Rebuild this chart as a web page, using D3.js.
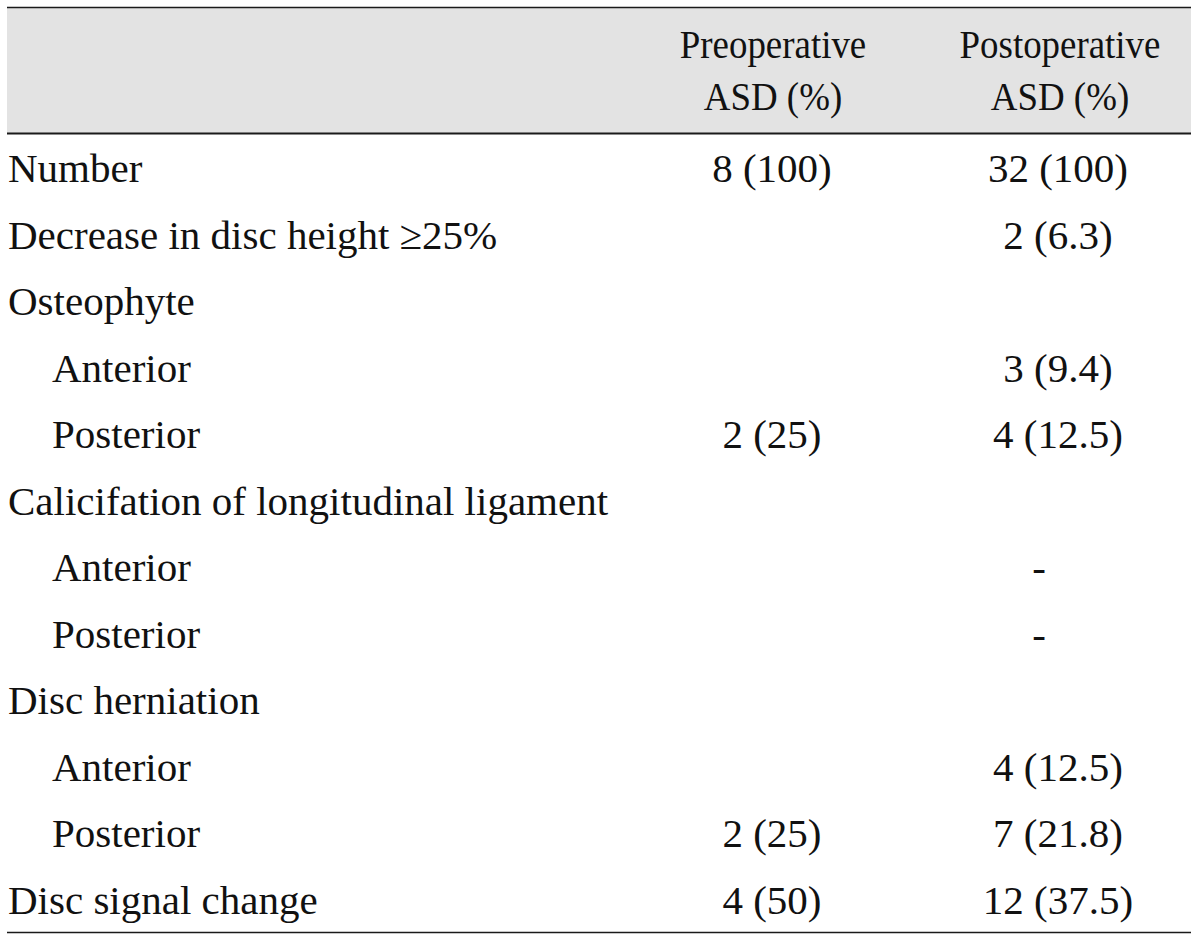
<!DOCTYPE html>
<html>
<head>
<meta charset="utf-8">
<script src="https://cdn.jsdelivr.net/npm/d3@7"></script>
<style>
html,body{margin:0;padding:0;background:#fff;}
svg{display:block;}
text{font-family:"Liberation Serif","Times New Roman",serif;fill:#111;}
</style>
</head>
<body>
<svg id="chart" width="1200" height="943"></svg>
<script>
const headerLines = [["Preoperative", "ASD (%)"], ["Postoperative", "ASD (%)"]];
const rowLabels = ["Number", "Decrease in disc height \u226525%", "Osteophyte", "Anterior", "Posterior",
  "Calicifation of longitudinal ligament", "Anterior", "Posterior", "Disc herniation", "Anterior", "Posterior",
  "Disc signal change"];
const rowIndent = [0, 0, 0, 1, 1, 0, 1, 1, 0, 1, 1, 0];
const preValues = ["8 (100)", "", "", "", "2 (25)", "", "", "", "", "", "2 (25)", "4 (50)"];
const postValues = ["32 (100)", "2 (6.3)", "", "3 (9.4)", "4 (12.5)", "", "-", "-", "", "4 (12.5)", "7 (21.8)", "12 (37.5)"];

const svg = d3.select("#chart");
const fontSize = 41;

const tableLeft = 7, tableRight = 1191;
const headerTop = 7.5, headerBottom = 133.5, tableBottom = 932.5;
svg.append("rect").attr("x", tableLeft).attr("y", headerTop).attr("width", tableRight - tableLeft)
  .attr("height", headerBottom - headerTop).attr("fill", "#e3e3e3");

const rowIdx = d3.range(rowLabels.length);
const y = d3.scalePoint().domain(rowIdx).range([182, 913.5]);
const colX = d3.scaleOrdinal().domain(["pre", "post"]).range([772, 1058]);
const headX = d3.scaleOrdinal().domain([0, 1]).range([773, 1060]);
const indentX = d3.scaleOrdinal().domain([0, 1]).range([8, 52]);

// header text (slightly condensed)
const hg = svg.append("g");
headerLines.forEach((lines, i) => {
  lines.forEach((t, j) => {
    hg.append("text")
      .attr("transform", `translate(${headX(i)},${58 + j * 52}) scale(0.9,1)`)
      .attr("text-anchor", "middle").attr("font-size", fontSize).text(t);
  });
});

const lineData = [
  {y: headerTop, w: 1.6},
  {y: headerBottom, w: 2.2},
  {y: tableBottom, w: 1.6}
];
svg.selectAll("line.rule").data(lineData).join("line").attr("class", "rule")
  .attr("x1", tableLeft).attr("x2", tableRight)
  .attr("y1", d => d.y).attr("y2", d => d.y)
  .attr("stroke", "#1a1a1a").attr("stroke-width", d => d.w);

svg.selectAll("text.label").data(rowIdx).join("text").attr("class", "label")
  .attr("x", i => indentX(rowIndent[i])).attr("y", i => y(i))
  .attr("font-size", fontSize).text(i => rowLabels[i]);

svg.selectAll("text.pre").data(rowIdx.filter(i => preValues[i])).join("text").attr("class", "pre")
  .attr("x", colX("pre")).attr("y", i => y(i)).attr("text-anchor", "middle")
  .attr("font-size", fontSize).text(i => preValues[i]);

svg.selectAll("text.post").data(rowIdx.filter(i => postValues[i])).join("text").attr("class", "post")
  .attr("x", i => postValues[i] === "-" ? colX("post") - 19 : colX("post")).attr("y", i => y(i)).attr("text-anchor", "middle")
  .attr("font-size", fontSize).text(i => postValues[i]);
</script>
</body>
</html>
